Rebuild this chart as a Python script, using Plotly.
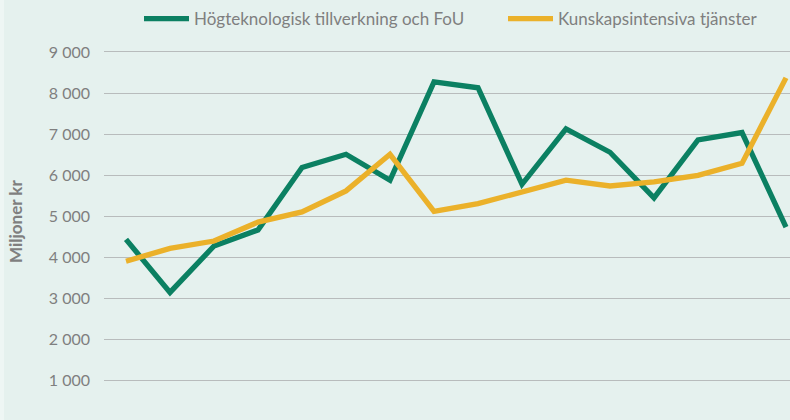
import plotly.graph_objects as go

years = [str(y) for y in range(2005, 2021)]
hogtek = [4440, 3150, 4280, 4670, 6190, 6510, 5880, 8270, 8130, 5780, 7130, 6560, 5450, 6860, 7040, 4740]
kunskap = [3910, 4220, 4400, 4860, 5110, 5620, 6510, 5120, 5310, 5600, 5880, 5740, 5840, 6000, 6290, 8370]
series_names = ["Högteknologisk tillverkning och FoU", "Kunskapsintensiva tjänster"]
tick_vals = [0, 1000, 2000, 3000, 4000, 5000, 6000, 7000, 8000, 9000]
tick_text = ["0", "1 000", "2 000", "3 000", "4 000", "5 000", "6 000", "7 000", "8 000", "9 000"]
y_title = "Miljoner kr"

BG = "#E5F1EE"
GREEN = "#0B8062"
YELLOW = "#EBB12A"
GREY = "#7F7F7F"
FONT = "Lato"

W, H = 790, 420
ML, MT = 104, 30
plot_w = W - ML
plot_h = H - MT

fig = go.Figure()
fig.add_trace(go.Scatter(x=years, y=hogtek, mode="lines", name=series_names[0], legend="legend",
                         line=dict(color=GREEN, width=5.3, shape="linear")))
fig.add_trace(go.Scatter(x=years, y=kunskap, mode="lines", name=series_names[1], legend="legend2",
                         line=dict(color=YELLOW, width=5.3, shape="linear")))

leg_common = dict(orientation="h", xanchor="left", xref="container",
                  y=1 - 19 / H, yref="container", yanchor="middle",
                  font=dict(family=FONT, size=17, color=GREY),
                  bgcolor="rgba(0,0,0,0)", itemwidth=45)

fig.update_layout(
    width=W, height=H,
    margin=dict(l=ML, r=0, t=MT, b=0, pad=0, autoexpand=False),
    paper_bgcolor=BG, plot_bgcolor=BG,
    font=dict(family=FONT, size=16, color=GREY),
    showlegend=True,
    legend=dict(x=139 / W, **leg_common),
    legend2=dict(x=503 / W, **leg_common),
    xaxis=dict(type="category", range=[-0.5, -0.5 + plot_w / 44.0],
               showgrid=False, showticklabels=False, zeroline=False,
               showline=False, ticks=""),
    yaxis=dict(range=[46, 46 + plot_h / 41.1 * 1000], tickvals=tick_vals, ticktext=tick_text,
               showgrid=True, gridcolor="#B8BCBC", gridwidth=1.4, zeroline=False,
               showline=False, ticks="", ticklabelstandoff=13,
               tickfont=dict(family=FONT, size=16, color=GREY)),
)

fig.add_shape(type="rect", xref="paper", yref="paper", x0=(0 - ML) / plot_w, x1=(4 - ML) / plot_w,
              y0=-0.1, y1=1.2, fillcolor="#EEF6F4", line=dict(width=0), layer="below")

fig.add_annotation(text=y_title, textangle=-90, xref="paper", yref="paper",
                   x=(15 - ML) / plot_w, y=(H - 222) / plot_h, showarrow=False,
                   font=dict(family=FONT, size=17, color=GREY, weight="bold"),
                   xanchor="center", yanchor="middle")
fig.add_annotation(text=tick_text[0], xref="paper", yref="y", x=(89 - ML) / plot_w, y=tick_vals[0],
                   showarrow=False, xanchor="right", yanchor="middle",
                   font=dict(family=FONT, size=16, color=GREY))

fig.write_html("out.html", config={"displayModeBar": False},
               post_script="document.body.style.margin='0';document.body.style.padding='0';")
